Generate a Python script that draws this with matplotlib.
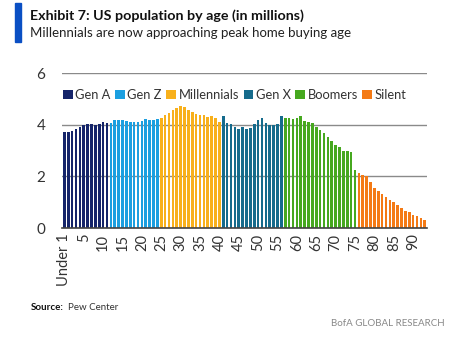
import matplotlib.pyplot as plt
from matplotlib.patches import Rectangle

plt.rcParams['font.family'] = ['Lato', 'DejaVu Sans']

# population in millions by single year of age, grouped by generation
generations = ['Gen A', 'Gen Z', 'Millennials', 'Gen X', 'Boomers', 'Silent']
colors = ['#15246a', '#1b9fe0', '#f8b01b', '#156b8c', '#46a81f', '#f47a15']

gen_a = [3.71, 3.71, 3.77, 3.85, 3.90, 3.99, 4.04, 4.04, 4.00, 4.04, 4.09, 4.05]
gen_z = [4.05, 4.18, 4.18, 4.17, 4.13, 4.12, 4.09, 4.09, 4.16, 4.22, 4.18, 4.19, 4.23]
millennials = [4.28, 4.36, 4.46, 4.56, 4.66, 4.74, 4.70, 4.58, 4.50, 4.40,
               4.37, 4.37, 4.30, 4.33, 4.28, 4.10]
gen_x = [4.34, 4.06, 4.02, 3.93, 3.83, 3.90, 3.83, 3.87, 4.03, 4.20,
         4.28, 4.06, 3.98, 3.98, 4.02, 4.34]
boomers = [4.28, 4.28, 4.23, 4.28, 4.34, 4.15, 4.10, 4.05, 3.90, 3.80,
           3.67, 3.52, 3.38, 3.22, 3.13, 3.00, 3.00, 2.94, 2.25]
silent = [2.12, 2.07, 2.02, 1.77, 1.57, 1.42, 1.32, 1.20, 1.09, 0.99,
          0.90, 0.77, 0.66, 0.61, 0.52, 0.48, 0.37, 0.32]

series = [gen_a, gen_z, millennials, gen_x, boomers, silent]

tick_pos = list(range(0, 91, 5))
tick_labels = ['Under 1'] + [str(a) for a in range(5, 91, 5)]

fig = plt.figure(figsize=(4.6, 3.45), dpi=100)
ax = fig.add_axes([0.135, 0.339, 0.793, 0.449])

start = 0
for name, vals, c in zip(generations, series, colors):
    x = list(range(start, start + len(vals)))
    ax.bar(x, vals, width=0.68, color=c, label=name, zorder=3)
    start += len(vals)

ax.set_ylim(0, 6)
ax.set_xlim(-0.6, start - 0.45)
ax.set_yticks([0, 2, 4, 6])
ax.grid(axis='y', color='#8a8a8a', linewidth=1.0, zorder=0)
for s in ['top', 'right', 'left']:
    ax.spines[s].set_visible(False)
ax.spines['bottom'].set_color('#444444')
ax.spines['bottom'].set_linewidth(1.2)
ax.spines['bottom'].set_zorder(4)
ax.tick_params(axis='y', length=0, labelsize=11, colors='#333333', pad=12)
ax.set_xticks(tick_pos)
ax.set_xticklabels(tick_labels, rotation=90, fontsize=10.5, color='#333333')
ax.tick_params(axis='x', length=0, pad=4)

ax.legend(loc='upper left', bbox_to_anchor=(-0.012, 0.93), ncol=6, frameon=False,
          fontsize=9.3, handlelength=0.75, handleheight=0.75, handletextpad=0.2,
          columnspacing=0.35, borderaxespad=0, labelcolor='#333333')

# header
fig.patches.append(Rectangle((15 / 460, 1 - 42 / 345), 6 / 460, 39 / 345,
                             transform=fig.transFigure, color='#0a4fc4'))
fig.text(30 / 460, 1 - 16 / 345, 'Exhibit 7: US population by age (in millions)',
         fontsize=10.3, fontweight='bold', va='center', color='#111111')
fig.text(30 / 460, 1 - 33 / 345, 'Millennials are now approaching peak home buying age',
         fontsize=9.5, va='center', color='#222222')

fig.text(31 / 460, 1 - 308 / 345, 'Source:', fontsize=7, fontweight='bold',
         va='center', color='#111111')
fig.text(68 / 460, 1 - 308 / 345, 'Pew Center', fontsize=7, va='center', color='#333333')
fig.text(445 / 460, 1 - 323 / 345, 'BofA GLOBAL RESEARCH', fontsize=7, ha='right',
         va='center', color='#888888')

fig.savefig('out.png', dpi=100)
